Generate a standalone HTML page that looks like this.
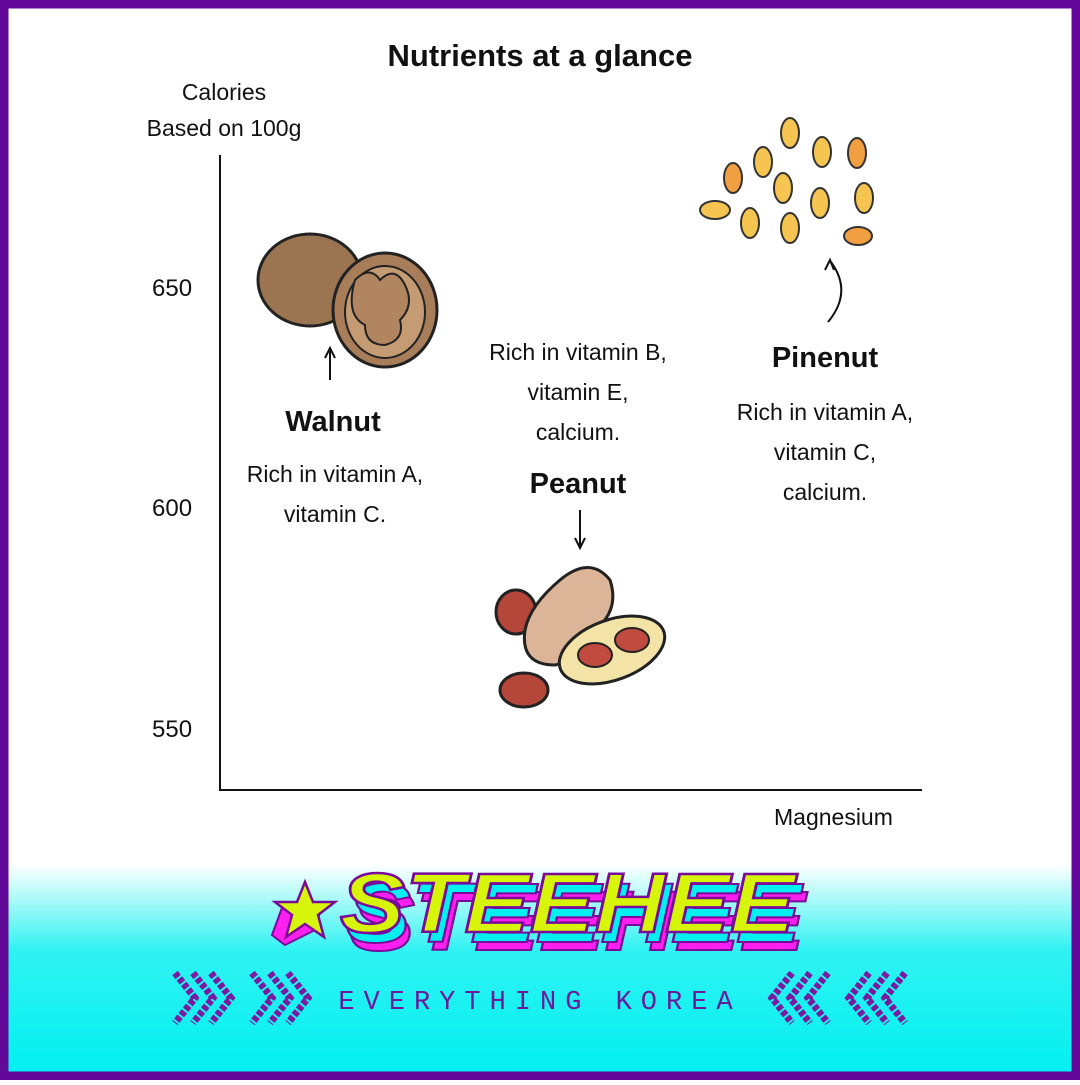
<!DOCTYPE html>
<html><head><style>
body{margin:0;width:1080px;height:1080px;overflow:hidden;font-family:"Liberation Sans",sans-serif}
</style></head><body>
<svg width="1080" height="1080" viewBox="0 0 1080 1080" xmlns="http://www.w3.org/2000/svg" font-family="Liberation Sans, sans-serif">
<defs>
<linearGradient id="bg" x1="0" y1="0" x2="0" y2="1">
<stop offset="0" stop-color="#fff"/><stop offset="0.8" stop-color="#fff"/><stop offset="0.88" stop-color="#30f2f2"/><stop offset="1" stop-color="#00f0f0"/>
</linearGradient>
</defs>
<rect width="1080" height="1080" fill="url(#bg)"/>
<rect x="4" y="4" width="1072" height="1072" fill="none" stroke="#62099a" stroke-width="9"/>
<text x="540" y="66" text-anchor="middle" font-size="31" font-weight="bold" fill="#111">Nutrients at a glance</text>
<text x="224" y="100" text-anchor="middle" font-size="23" fill="#111">Calories</text>
<text x="224" y="136" text-anchor="middle" font-size="23" fill="#111">Based on 100g</text>
<path d="M220 155 V790 H922" fill="none" stroke="#111" stroke-width="2"/>
<g font-size="24" fill="#111">
<text x="152" y="296">650</text><text x="152" y="516">600</text><text x="152" y="737">550</text>
<text x="774" y="825" font-size="23">Magnesium</text>
</g>
<!-- walnut -->
<ellipse cx="310" cy="280" rx="52" ry="46" fill="#9b7552" stroke="#222" stroke-width="3"/>
<ellipse cx="385" cy="310" rx="52" ry="57" fill="#a77d5a" stroke="#222" stroke-width="3"/>
<ellipse cx="385" cy="312" rx="40" ry="46" fill="#c59b73" stroke="#222" stroke-width="2"/>
<path d="M355 280 q15 -15 25 0 q15 -15 25 5 q10 20 -5 35 q5 20 -15 25 q-20 0 -20 -20 q-20 -10 -10 -45z" fill="#b08560" stroke="#222" stroke-width="2"/>
<path d="M330 380 v-30 m-5 8 l5 -10 l5 10" stroke="#111" stroke-width="2" fill="none"/>
<g fill="#111" text-anchor="middle">
<text x="333" y="431" font-size="29" font-weight="bold">Walnut</text>
<text x="335" y="482" font-size="23">Rich in vitamin A,</text>
<text x="335" y="522" font-size="23">vitamin C.</text>
<text x="578" y="360" font-size="23">Rich in vitamin B,</text>
<text x="578" y="400" font-size="23">vitamin E,</text>
<text x="578" y="440" font-size="23">calcium.</text>
<text x="578" y="493" font-size="29" font-weight="bold">Peanut</text>
<text x="825" y="367" font-size="29" font-weight="bold">Pinenut</text>
<text x="825" y="420" font-size="23">Rich in vitamin A,</text>
<text x="825" y="460" font-size="23">vitamin C,</text>
<text x="825" y="500" font-size="23">calcium.</text>
</g>
<path d="M580 510 v36 m-5 -8 l5 10 l5 -10" stroke="#111" stroke-width="2" fill="none"/>
<!-- peanut -->
<ellipse cx="516" cy="612" rx="20" ry="22" fill="#b5463a" stroke="#222" stroke-width="3"/>
<ellipse cx="524" cy="690" rx="24" ry="17" fill="#b5463a" stroke="#222" stroke-width="3"/>
<path d="M560 580 q30 -25 50 0 q10 30 -15 50 q-10 30 -40 35 q-35 0 -30 -35 q5 -25 35 -50z" fill="#dcb497" stroke="#222" stroke-width="3"/>
<ellipse cx="612" cy="650" rx="55" ry="30" transform="rotate(-20 612 650)" fill="#f3e3a6" stroke="#222" stroke-width="3"/>
<ellipse cx="595" cy="655" rx="17" ry="12" fill="#c04b3e" stroke="#222" stroke-width="2"/>
<ellipse cx="632" cy="640" rx="17" ry="12" fill="#c04b3e" stroke="#222" stroke-width="2"/>
<!-- pinenuts -->
<g fill="#f5c451" stroke="#333" stroke-width="2">
<ellipse cx="790" cy="133" rx="9" ry="15"/><ellipse cx="822" cy="152" rx="9" ry="15"/><ellipse cx="857" cy="153" rx="9" ry="15" fill="#f0a040"/>
<ellipse cx="763" cy="162" rx="9" ry="15"/><ellipse cx="733" cy="178" rx="9" ry="15" fill="#f0a040"/><ellipse cx="783" cy="188" rx="9" ry="15"/>
<ellipse cx="820" cy="203" rx="9" ry="15"/><ellipse cx="864" cy="198" rx="9" ry="15"/><ellipse cx="715" cy="210" rx="15" ry="9"/>
<ellipse cx="750" cy="223" rx="9" ry="15"/><ellipse cx="790" cy="228" rx="9" ry="15"/><ellipse cx="858" cy="236" rx="14" ry="9" fill="#f0a040"/>
</g>
<path d="M828 322 q25 -30 3 -60 m-6 8 l5 -10 l4 10" stroke="#111" stroke-width="2" fill="none"/>
<!-- logo -->
<g font-weight="bold" font-style="italic" font-size="84">
<text x="350" y="950" textLength="455" lengthAdjust="spacingAndGlyphs" fill="#ff20f0" stroke="#7a0a9a" stroke-width="2">STEEHEE</text>
<text x="346" y="942" textLength="455" lengthAdjust="spacingAndGlyphs" fill="#00f0f0" stroke="#7a0a9a" stroke-width="2">STEEHEE</text>
<text x="340" y="932" textLength="455" lengthAdjust="spacingAndGlyphs" fill="#d6f50a" stroke="#7a0a9a" stroke-width="2.5">STEEHEE</text>
</g>
<polygon points="283,905 300,920 320,912 315,930 285,945 272,935" fill="#ff20f0" stroke="#7a0a9a" stroke-width="2"/>
<polygon points="305,882 313,902 335,902 318,915 324,937 305,924 286,937 292,915 275,902 297,902" fill="#d6f50a" stroke="#7a0a9a" stroke-width="2.5"/>
<text x="540" y="1009" text-anchor="middle" font-family="Liberation Mono, monospace" font-size="27" fill="#6a1a9a" letter-spacing="9">EVERYTHING KOREA</text>
<g fill="none" stroke="#7a1aa0" stroke-width="7" stroke-dasharray="5 2">
<path d="M175 973 l20 25 l-20 25 M193 973 l20 25 l-20 25 M211 973 l20 25 l-20 25"/>
<path d="M252 973 l20 25 l-20 25 M270 973 l20 25 l-20 25 M288 973 l20 25 l-20 25"/>
<path d="M905 973 l-20 25 l20 25 M887 973 l-20 25 l20 25 M869 973 l-20 25 l20 25"/>
<path d="M828 973 l-20 25 l20 25 M810 973 l-20 25 l20 25 M792 973 l-20 25 l20 25"/>
</g>
</svg>
</body></html>
